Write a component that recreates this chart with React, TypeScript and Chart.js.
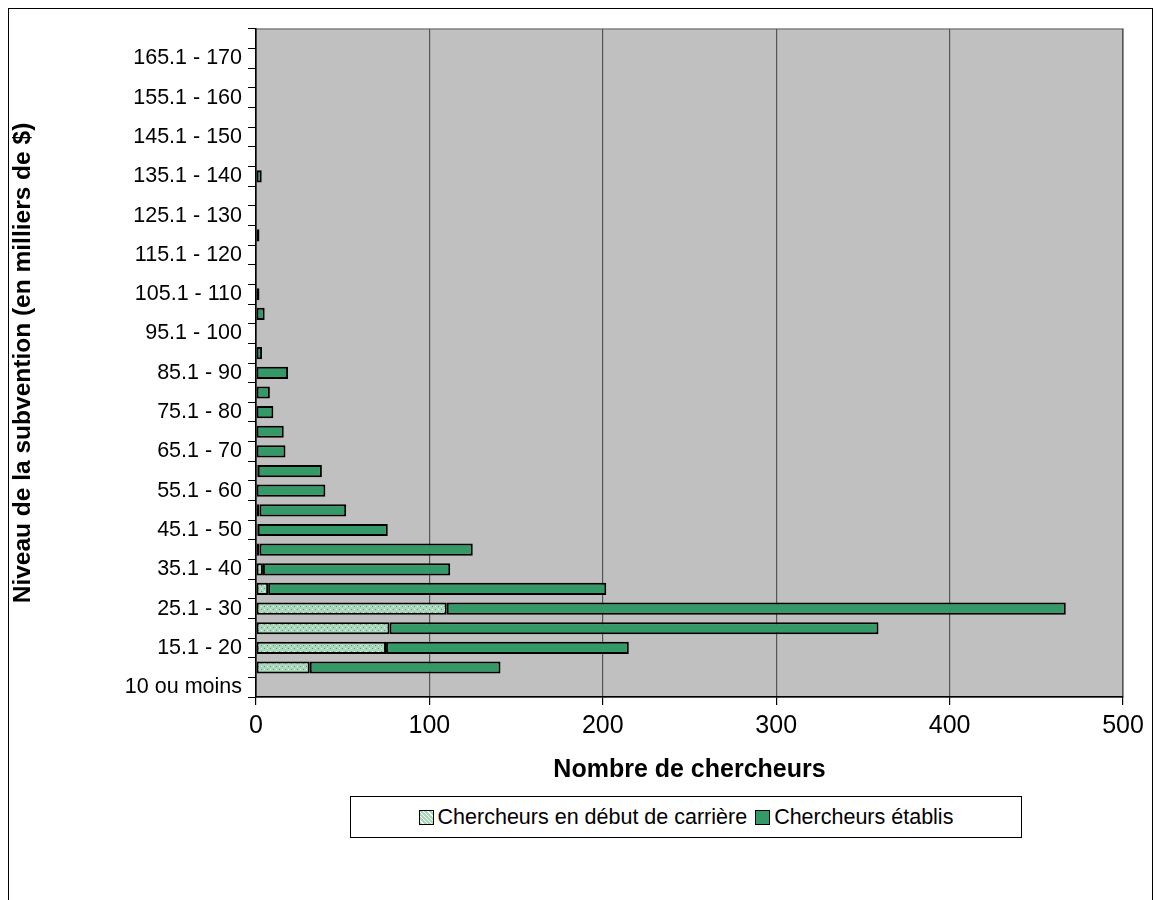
import { Chart, registerables } from "chart.js";
import { useEffect, useRef } from "react";

Chart.register(...registerables);

const categories = [
    "10 ou moins", "10.1 - 15", "15.1 - 20", "20.1 - 25", "25.1 - 30", "30.1 - 35", "35.1 - 40",
    "40.1 - 45", "45.1 - 50", "50.1 - 55", "55.1 - 60", "60.1 - 65", "65.1 - 70", "70.1 - 75",
    "75.1 - 80", "80.1 - 85", "85.1 - 90", "90.1 - 95", "95.1 - 100", "100.1 - 105", "105.1 - 110",
    "110.1 - 115", "115.1 - 120", "120.1 - 125", "125.1 - 130", "130.1 - 135", "135.1 - 140",
    "140.1 - 145", "145.1 - 150", "150.1 - 155", "155.1 - 160", "160.1 - 165", "165.1 - 170", "170.1 - 175",
];
const debut = [0, 31, 75, 77, 110, 7, 4, 2, 1, 2, 0, 1, 0, 0, 0, 0, 0, 0, 0, 0, 0, 0, 0, 0, 0, 0, 0, 0, 0, 0, 0, 0, 0, 0];
const etablis = [0, 110, 140, 282, 357, 195, 108, 123, 75, 50, 40, 37, 17, 16, 10, 8, 18.5, 3.5, 0, 5, 2, 0, 0, 2, 0, 0, 3.3, 0, 0, 0, 0, 0, 0, 0];
const xTicks = [0, 100, 200, 300, 400, 500];

function makePattern(ctx: CanvasRenderingContext2D) {
    const c = document.createElement("canvas");
    c.width = 6;
    c.height = 6;
    const p = c.getContext("2d")!;
    p.fillStyle = "#a9d8bb";
    p.fillRect(0, 0, 6, 6);
    p.fillStyle = "#4f9f70";
    p.fillRect(0, 0, 1, 1);
    p.fillRect(3, 3, 1, 1);
    p.fillStyle = "#ffffff";
    p.fillRect(3, 0, 1, 1);
    p.fillRect(0, 3, 1, 1);
    return ctx.createPattern(c, "repeat")!;
}

const font = "'Liberation Sans', Arial, sans-serif";

export default function App() {
    const ref = useRef<HTMLCanvasElement>(null);

    useEffect(() => {
        const ctx = ref.current!.getContext("2d")!;
        const pattern = makePattern(ctx);
        const chart = new Chart(ctx, {
            type: "bar",
            data: {
                labels: categories,
                datasets: [
                    { label: "Chercheurs en début de carrière", data: debut, backgroundColor: pattern, borderColor: "#000", borderWidth: 2, borderSkipped: false },
                    { label: "Chercheurs établis", data: etablis, backgroundColor: "#339966", borderColor: "#000", borderWidth: 2, borderSkipped: false },
                ],
            },
            options: {
                indexAxis: "y",
                animation: false,
                responsive: false,
                layout: { padding: { top: 20, right: 29, left: 0, bottom: 0 } },
                datasets: { bar: { categoryPercentage: 1, barPercentage: 0.62 } },
                plugins: { legend: { display: false }, tooltip: { enabled: false } },
                scales: {
                    x: {
                        stacked: true,
                        min: 0,
                        max: 500,
                        afterBuildTicks: (s: any) => { s.ticks = xTicks.map((v) => ({ value: v })); },
                        afterFit: (s: any) => { s.height = 92; },
                        ticks: { color: "#000", font: { family: font, size: 25 }, padding: 6 },
                        grid: { color: "#555", lineWidth: 1.2, tickLength: 8, tickColor: "#000" },
                        border: { color: "#000", width: 1.5 },
                        title: { display: true, text: "Nombre de chercheurs", color: "#000", font: { family: font, size: 25, weight: "bold" }, padding: { top: 6 } },
                    },
                    y: {
                        stacked: true,
                        reverse: true,
                        afterFit: (s: any) => { s.width = 247; },
                        ticks: {
                            autoSkip: false,
                            color: "#000",
                            font: { family: font, size: 21.5 },
                            padding: 6,
                            callback: (_v: any, i: number) => (i % 2 === 0 ? categories[i] : ""),
                        },
                        grid: { drawOnChartArea: false, tickLength: 8, tickColor: "#000", color: "#000" },
                        border: { color: "#000", width: 1.5 },
                        title: { display: true, text: "Niveau de la subvention (en milliers de $)", color: "#000", font: { family: font, size: 24.5, weight: "bold" }, padding: { bottom: 2, top: 0 } },
                    },
                },
            },
            plugins: [
                {
                    id: "bg",
                    beforeDraw: (c: any) => {
                        const a = c.chartArea;
                        c.ctx.save();
                        c.ctx.fillStyle = "#c0c0c0";
                        c.ctx.fillRect(a.left, a.top, a.right - a.left, a.bottom - a.top);
                        c.ctx.strokeStyle = "#808080";
                        c.ctx.lineWidth = 1.5;
                        c.ctx.strokeRect(a.left, a.top, a.right - a.left, a.bottom - a.top);
                        c.ctx.restore();
                    },
                },
            ],
        });
        return () => chart.destroy();
    }, []);

    const sq = (bg: string) => ({
        display: "inline-block", width: 13, height: 13, border: "1px solid #000", background: bg, marginRight: 4, verticalAlign: "middle",
    });

    return (
        <div style={{ position: "relative", width: 1143, height: 891, border: "1px solid #000", fontFamily: font }}>
            <canvas ref={ref} width={1143} height={780} style={{ display: "block" }} />
            <div style={{ position: "absolute", left: 341, top: 787, width: 670, height: 40, border: "1px solid #000", background: "#fff", fontSize: 21.5, display: "flex", alignItems: "center", justifyContent: "center", whiteSpace: "nowrap" }}>
                <span style={sq("repeating-linear-gradient(45deg,#a9d8bb 0 2px,#ffffff 2px 3px)")} />
                <span style={{ marginRight: 8 }}>Chercheurs en début de carrière</span>
                <span style={sq("#339966")} />
                <span>Chercheurs établis</span>
            </div>
        </div>
    );
}
